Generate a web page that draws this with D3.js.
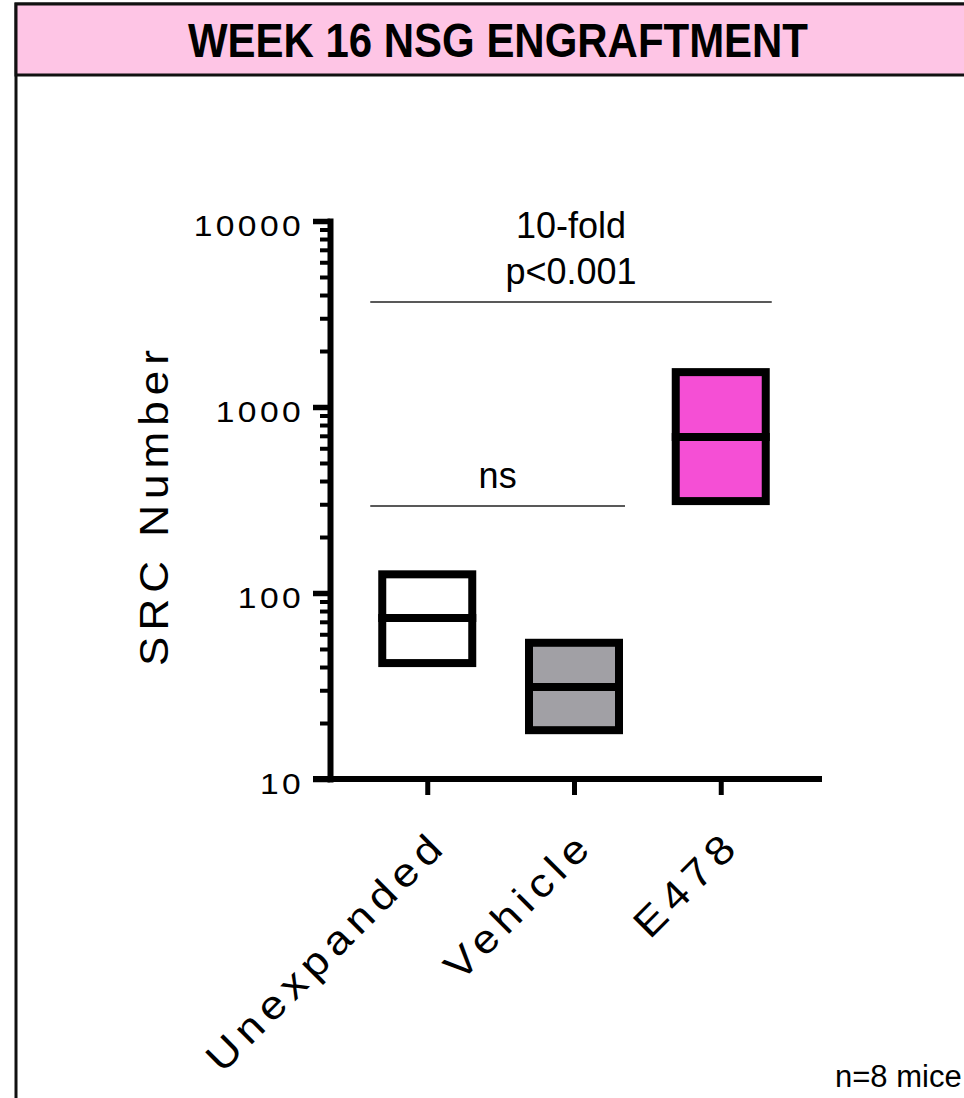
<!DOCTYPE html>
<html>
<head>
<meta charset="utf-8">
<script src="https://cdn.jsdelivr.net/npm/d3@7"></script>
<style>
    body { margin: 0; background: #fff; }
    svg text { font-family: "Liberation Sans", Arial, Helvetica, sans-serif; fill: #000; }
</style>
</head>
<body>
<svg id="chart" width="964" height="1098"></svg>
<script>

    // data
    const groups = ["Unexpanded", "Vehicle", "E478"];
    const lowValues = [42, 18.3, 312];
    const highValues = [126, 54, 1540];
    const meanValues = [73.4, 31.2, 690];
    const fills = ["#ffffff", "#a1a0a5", "#f54fd5"];
    const majorTicks = [10, 100, 1000, 10000];
    const compFrom = [0, 0];
    const compTo = [1, 2];
    const compLevel = [294, 3667];
    const compLabels = [["ns"], ["10-fold", "p<0.001"]];

    const title = "WEEK 16 NSG ENGRAFTMENT";
    const yTitle = "SRC Number";
    const note = "n=8 mice";

    let width = 964,
        height = 1098;

    let svg = d3.select("#chart");

    // frame + pink header
    svg.append("rect")
        .attr("x", 16).attr("y", 4)
        .attr("width", width + 20).attr("height", height + 20)
        .attr("fill", "#fff")
        .attr("stroke", "#111")
        .attr("stroke-width", 3);

    svg.append("rect")
        .attr("x", 16).attr("y", 4)
        .attr("width", width + 20).attr("height", 71)
        .attr("fill", "#fec5e5")
        .attr("stroke", "#111")
        .attr("stroke-width", 3);

    svg.append("text")
        .attr("x", 498).attr("y", 57)
        .attr("text-anchor", "middle")
        .attr("font-weight", "bold")
        .attr("font-size", 48)
        .attr("textLength", 620)
        .attr("lengthAdjust", "spacingAndGlyphs")
        .text(title);

    let y = d3.scaleLog()
              .domain([10, 10000])
              .range([779, 221]);
    let x = d3.scalePoint()
              .domain(groups)
              .range([326, 822])
              .padding(0.69);

    // y axis, minor ticks first
    let minorTicks = y.ticks().filter(function (d) { return majorTicks.indexOf(d) < 0; });

    let yMinor = svg.append("g")
        .attr("transform", "translate(330,0)")
        .call(d3.axisLeft(y).tickValues(minorTicks).tickSize(10).tickSizeOuter(0).tickFormat(""));
    yMinor.select(".domain").remove();
    yMinor.selectAll(".tick line").attr("stroke", "#000").attr("stroke-width", 4);

    let yMajor = svg.append("g")
        .attr("transform", "translate(330,0)")
        .call(d3.axisLeft(y).tickValues(majorTicks).tickSize(17).tickSizeOuter(0)
            .tickFormat(d3.format("d")));
    yMajor.select(".domain")
        .attr("stroke", "#000")
        .attr("stroke-width", 6)
        .attr("stroke-linecap", "square");
    yMajor.selectAll(".tick line").attr("stroke", "#000").attr("stroke-width", 5.5);
    // the original lettering is a bit wider than Arial, stretch it
    yMajor.selectAll(".tick text")
        .attr("x", null)
        .attr("font-size", 30)
        .attr("letter-spacing", 3)
        .attr("dy", "0.48em")
        .attr("transform", "translate(-26,0) scale(1.12,1)");

    // x axis
    let xAxis = svg.append("g")
        .attr("transform", "translate(0,779)")
        .call(d3.axisBottom(x).tickSize(16).tickSizeOuter(0).tickFormat(""));
    xAxis.select(".domain").remove();
    xAxis.selectAll(".tick line").attr("stroke", "#000").attr("stroke-width", 5);
    xAxis.append("line")
        .attr("x1", 313).attr("x2", x.range()[1])
        .attr("y1", 0).attr("y2", 0)
        .attr("stroke", "#000")
        .attr("stroke-width", 6);

    svg.selectAll(".xlabel")
        .data(groups)
        .enter().append("text")
        .attr("class", "xlabel")
        .attr("text-anchor", "end")
        .attr("font-size", 40)
        .attr("letter-spacing", 6)
        .attr("transform", function (d) {
            return "translate(" + (x(d) + 22) + ",847) rotate(-45) scale(1.12,1)";
        })
        .text(function (d) { return d; });

    svg.append("text")
        .attr("text-anchor", "middle")
        .attr("font-size", 40)
        .attr("letter-spacing", 5.5)
        .attr("transform", "translate(168,505) rotate(-90) scale(1.1,1)")
        .text(yTitle);

    // floating bars: low..high with a line at the mean
    let bars = svg.selectAll(".bar")
        .data(groups)
        .enter().append("g")
        .attr("class", "bar");

    bars.append("rect")
        .attr("x", function (d) { return x(d) - 45; })
        .attr("width", 90)
        .attr("y", function (d, i) { return y(highValues[i]); })
        .attr("height", function (d, i) { return y(lowValues[i]) - y(highValues[i]); })
        .attr("fill", function (d, i) { return fills[i]; })
        .attr("stroke", "#000")
        .attr("stroke-width", 8);

    bars.append("line")
        .attr("x1", function (d) { return x(d) - 49; })
        .attr("x2", function (d) { return x(d) + 49; })
        .attr("y1", function (d, i) { return y(meanValues[i]); })
        .attr("y2", function (d, i) { return y(meanValues[i]); })
        .attr("stroke", "#000")
        .attr("stroke-width", 8);

    // significance brackets
    compLevel.forEach(function (v, i) {
        let x1 = x(groups[compFrom[i]]) - 57,
            x2 = x(groups[compTo[i]]) + 51,
            yy = y(v);
        svg.append("line")
            .attr("x1", x1).attr("x2", x2)
            .attr("y1", yy).attr("y2", yy)
            .attr("stroke", "#222")
            .attr("stroke-width", 1.5);
        let lines = compLabels[i];
        lines.forEach(function (t, j) {
            svg.append("text")
                .attr("x", (x1 + x2) / 2)
                .attr("y", yy - 18 - (lines.length - 1 - j) * 46)
                .attr("text-anchor", "middle")
                .attr("font-size", 36)
                .text(t);
        });
    });

    svg.append("text")
        .attr("x", 835).attr("y", 1087)
        .attr("font-size", 31)
        .text(note);

</script>
</body>
</html>
